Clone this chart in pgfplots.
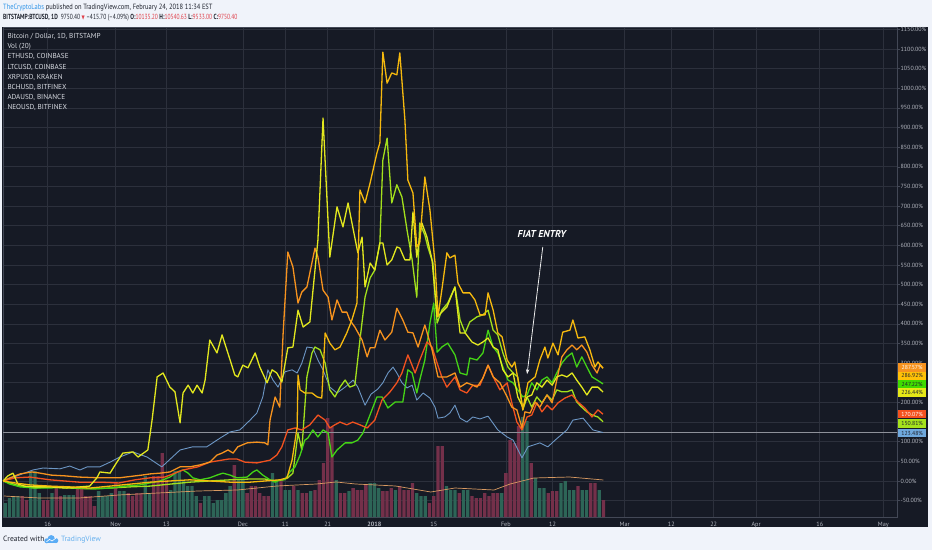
\documentclass[border=0pt]{standalone}
\usepackage{pgfplots}
\pgfplotsset{compat=1.18}
\usepackage{fontspec}
\setmainfont{PT Sans}
\newfontfamily\dejavu{DejaVu Sans}
\usetikzlibrary{arrows.meta}

\definecolor{bgdark}{HTML}{161A25}
\definecolor{bglight}{HTML}{F0F3FA}
\definecolor{gridc}{HTML}{2C303C}
\definecolor{axisc}{HTML}{434856}
\definecolor{tickc}{HTML}{B2B5BE}
\definecolor{legc}{HTML}{D8DBE2}
\definecolor{hdrc}{HTML}{1E222D}
\definecolor{tvblue}{HTML}{2F94E8}
\definecolor{tvred}{HTML}{E0404A}
\definecolor{cloudc}{HTML}{5AACF5}
\definecolor{cltc}{HTML}{F7931E}
\definecolor{cxrp}{HTML}{F6B90E}
\definecolor{cneo}{HTML}{44D316}
\definecolor{cbch}{HTML}{E3E81E}
\definecolor{ceth}{HTML}{F2521F}
\definecolor{cada}{HTML}{A3E01C}
\definecolor{cbtc}{HTML}{6C96C4}
\definecolor{cma}{HTML}{D99A62}
\definecolor{vred}{HTML}{74304A}
\definecolor{vgreen}{HTML}{2D6557}
\definecolor{lbtc}{HTML}{6FA8DC}
\definecolor{lxrp}{HTML}{FFC107}
\definecolor{lneo}{HTML}{3FDB00}
\definecolor{lbch}{HTML}{E5E817}
\definecolor{leth}{HTML}{F4511E}
\definecolor{lada}{HTML}{A5E21C}
\definecolor{lltc}{HTML}{F7931E}
\definecolor{lastline}{HTML}{8E919A}

\pgfplotsset{
  tvaxis/.style={at={(3pt,33pt)}, anchor=south west, scale only axis,
    width=894pt, height=490pt, xmin=4.46, xmax=215.2},
  pl/.style={line width=1.3pt, line join=round},
}
\tikzset{lbl/.style={anchor=west, inner sep=0pt, minimum width=28.5pt, minimum height=8.3pt,
   font=\fontsize{5.8}{6}\selectfont, xshift=0.7pt}}

\begin{document}
\begin{tikzpicture}[x=1pt,y=1pt]
\useasboundingbox (0,0) rectangle (932,550);
\fill[bglight] (0,0) rectangle (932,550);
\fill[bgdark] (2,23) rectangle (928,523);
% header
\node[anchor=base west, inner sep=0pt, font=\fontsize{7.6}{8}\selectfont, text=hdrc] at (3,540.3)
 {\scalebox{0.85}[1]{{\color{tvblue}TheCryptoLabs} published on TradingView.com, February 24, 2018 11:34 EST}};
\node[anchor=base west, inner sep=0pt, font=\fontsize{7.4}{8}\selectfont, text=hdrc] at (3,530.3)
 {\scalebox{0.75}[1]{\textbf{BITSTAMP:BTCUSD, 1D}\ \ 9750.40 {\dejavu\fontsize{5.5}{6}\selectfont\color{tvred}▼} --415.70 (--4.09\%) \textbf{O:}{\color{tvred}10135.20} \textbf{H:}{\color{tvred}10540.63} \textbf{L:}{\color{tvred}9533.00} \textbf{C:}{\color{tvred}9750.40}}};
% footer
\node[anchor=base west, inner sep=0pt, font=\fontsize{7.6}{8}\selectfont, text=hdrc] at (3,8.5) {Created with};
\fill[cloudc] (46.5,6.8) rectangle (56.5,10.5);
\fill[cloudc] (46.8,9.2) circle (2.5);
\fill[cloudc] (51.2,11.3) circle (3.6);
\fill[cloudc] (55.8,9.4) circle (2.5);
\draw[white, line width=0.6pt] (46.5,8.2) -- (49.5,10.6) -- (52,9) -- (56,12);
\node[anchor=base west, inner sep=0pt, font=\fontsize{7.6}{8}\selectfont, text=tvblue!75!white] at (61,8.5) {TradingView};

% axis A: frame, grid, ticks
\begin{axis}[tvaxis, ymin=-91.7, ymax=1155.9,
  axis line style={draw=axisc, line width=0.6pt},
  grid=major, major grid style={draw=gridc, line width=0.6pt},
  xtick={15,31,43,61,71,81,92,106,123,134,151,162,172,182,197,212},
  xticklabels={16,Nov,13,Dec,11,21,\textbf{2018},15,Feb,12,Mar,12,22,Apr,16,May},
  ytick={-50,0,...,1150},
  ytick pos=right, yticklabel pos=right, xtick pos=bottom,
  tick align=outside, major tick length=2.5pt,
  xtick style={draw=none}, ytick style={draw=axisc, line width=0.5pt},
  /pgf/number format/assume math mode=true,
  yticklabel={\pgfmathprintnumber[fixed,fixed zerofill,precision=2,1000 sep={}]{\tick}\%},
  y tick label style={font=\fontsize{6}{7}\selectfont, text=tickc, anchor=west, inner sep=0pt, xshift=1pt},
  x tick label style={font=\fontsize{6.2}{7}\selectfont, text=tickc, inner sep=0pt, yshift=-2pt},
]
\addplot[draw=none] coordinates {(100,0)};
\end{axis}

% axis B: volume
\begin{axis}[tvaxis, hide axis, ymin=0, ymax=490]
\addplot[ybar, bar width=0.78, bar shift=0pt, fill=vred, draw=none] coordinates {
(9,21) (10,17) (14,17) (15,17) (17,31) (18,21) (22,31) (23,31) (24,21) (25,21) (26,11) (31,34)
(34,24) (35,21) (36,24) (37,24) (40,41) (41,41) (42,64) (43,37) (51,14) (59,52) (62,24) (63,31)
(64,31) (65,24) (66,21) (67,21) (70,37) (73,31) (75,24) (76,24) (78,27) (79,37) (80,54) (81,99)
(82,90) (84,24) (85,24) (87,29) (88,27) (89,27) (90,32) (94,26) (95,26) (96,29) (98,31) (99,27)
(100,27) (101,34) (105,14) (106,21) (107,71) (108,71) (112,24) (115,21) (116,19) (117,19) (118,24)
(119,21) (120,24) (121,24) (123,44) (124,77) (125,74) (126,91) (129,54) (133,24) (134,26) (135,26)
(140,31) (143,34) (144,34) (146,17)};
\addplot[ybar, bar width=0.78, bar shift=0pt, fill=vgreen, draw=none] coordinates {
(5,14) (6,19) (7,21) (8,21) (11,46) (12,46) (13,24) (16,24) (19,22) (20,22) (21,22) (27,26) (28,21)
(29,21) (30,24) (32,26) (33,26) (38,41) (39,24) (44,27) (45,46) (46,46) (47,37) (48,31) (49,31)
(50,21) (52,21) (53,21) (54,14) (55,17) (56,17) (57,24) (58,31) (60,37) (61,37) (68,44) (69,37)
(71,27) (72,27) (74,27) (77,26) (83,37) (86,26) (91,34) (92,34) (93,29) (97,27) (102,24) (103,21)
(104,21) (109,31) (110,27) (111,27) (113,27) (114,27) (122,24) (127,100) (128,96) (130,39) (131,29)
(132,29) (136,34) (137,36) (138,27) (139,27) (141,27) (142,27) (145,27)};
\addplot[cma, line width=0.7pt] coordinates {
(4.7,21) (13,19) (22.4,19) (31.7,22) (41,24) (50.4,26) (59.7,27) (69,31) (78.3,33) (83,35)
(87.6,33) (97,31) (105.3,25) (111,29) (120.2,27) (124,33) (129.6,39) (138,40) (146,37)};
\end{axis}

% axis C: price lines
\begin{axis}[tvaxis, hide axis, ymin=-91.7, ymax=1155.9, clip=false]
\addplot[lastline, line width=0.6pt] coordinates {(4.46,123.48) (215.2,123.48)};
% BTC
\addplot[cbtc, line width=0.9pt, line join=round] coordinates {
(4.5,0) (11.5,28) (13.9,33) (17.9,31) (20.2,38) (22.6,28) (24.3,36) (27.3,36) (29.7,48) (32.0,61)
(35.1,74) (38.4,61) (41.9,36) (43.1,48) (46.2,79) (49.2,87) (52.5,87) (55.6,109) (58.0,125) (60.3,130)
(62.7,155) (64.3,173) (65.7,214) (66.9,283) (68.1,257) (69.3,239) (70.9,278) (72.6,283) (73.8,275)
(74.9,300) (76.1,341) (77.5,339) (78.7,308) (79.9,283) (81.5,239) (83.2,224) (85.1,239) (87.0,257)
(88.1,239) (89.8,193) (91.2,221) (92.8,234) (94.0,250) (95.2,275) (96.4,290) (97.3,275) (98.5,250)
(99.7,237) (100.9,244) (102.0,206) (103.5,224) (105.1,211) (106.3,188) (107.0,160) (108.6,163)
(109.8,173) (111.0,193) (112.2,160) (113.8,150) (115.2,163) (116.9,158) (118.8,165) (121.1,130)
(123.3,112) (124.7,104) (126.8,59) (128.2,87) (131.0,97) (132.9,87) (134.6,104) (137.4,130)
(138.8,155) (141.2,160) (143.5,130) (145.9,123.48)};
% ADA
\addplot[cada, pl] coordinates {
(4.5,0) (6.1,-5) (8.5,-13) (12.0,-18) (15.5,-15) (20.2,-18) (24.9,-20) (29.7,-18) (34.4,-15)
(39.1,-13) (43.8,-8) (48.5,-3) (53.2,0) (58.0,3) (62.7,5) (66.2,5) (68.6,0) (70.5,3) (71.6,8)
(72.8,20) (74.0,122) (74.9,79) (76.1,265) (77.3,326) (78.0,341) (79.2,334) (80.4,300) (81.5,232)
(82.7,214) (83.9,239) (85.1,257) (86.2,239) (87.4,244) (88.6,359) (89.8,468) (91.0,517) (92.1,537)
(93.3,606) (94.0,817) (95.0,873) (96.1,708) (97.3,754) (98.5,723) (99.7,639) (100.9,563) (102.0,468)
(102.7,657) (103.9,626) (104.6,596) (105.8,555) (106.8,402) (107.9,435) (109.3,453) (111.0,494)
(112.2,410) (113.4,377) (114.5,405) (116.2,418) (117.6,423) (118.8,435) (120.0,384) (121.1,372)
(122.3,326) (123.5,290) (124.7,275) (125.8,265) (127.0,181) (128.0,214) (129.1,188) (130.3,214)
(131.5,199) (132.7,219) (133.9,206) (135.0,232) (136.2,227) (137.4,227) (138.6,232) (139.7,201)
(140.9,188) (142.1,176) (143.3,168) (144.7,163) (145.9,150.81)};
% NEO
\addplot[cneo, pl] coordinates {
(4.5,0) (6.1,-8) (8.5,-15) (12.0,-18) (15.5,-18) (19.1,-15) (22.6,-18) (26.1,-20) (29.7,-18)
(33.2,-13) (36.7,-10) (39.1,-5) (41.5,0) (43.8,10) (45.5,23) (46.9,28) (48.1,20) (49.2,8) (50.9,3)
(53.2,8) (54.9,15) (56.3,20) (58.0,15) (59.6,8) (62.0,10) (63.4,23) (64.3,28) (65.7,15) (67.4,3)
(68.6,-3) (69.7,3) (70.9,3) (72.1,23) (73.3,36) (74.5,66) (75.6,104) (76.3,109) (77.5,130)
(78.7,112) (79.9,130) (81.1,122) (82.0,61) (83.2,79) (85.1,97) (86.7,97) (88.1,104) (89.3,122)
(90.5,155) (92.6,214) (93.8,214) (95.2,186) (96.9,201) (98.7,201) (99.9,283) (100.9,275) (102.0,224)
(102.7,257) (103.9,308) (105.1,402) (106.0,453) (106.8,328) (107.9,341) (109.3,351) (111.0,321)
(112.2,275) (113.8,270) (114.5,313) (116.2,308) (117.6,326) (118.8,384) (120.0,341) (121.1,326)
(122.3,290) (123.5,257) (124.7,250) (125.8,232) (127.0,214) (128.0,219) (129.1,250) (130.3,232)
(131.5,257) (132.7,265) (133.9,250) (135.0,275) (136.2,300) (137.4,316) (138.6,326) (139.7,290)
(140.9,316) (142.1,290) (143.3,265) (144.5,257) (145.9,247.22)};
% ETH
\addplot[ceth, pl] coordinates {
(4.5,0) (7.3,8) (10.8,10) (15.5,3) (22.4,-3) (27.3,-3) (31.8,-5) (35.6,3) (39.1,8) (42.6,10)
(46.9,28) (50.4,36) (53.2,48) (54.9,51) (57.7,56) (59.6,56) (61.5,48) (64.3,46) (67.4,53) (69.0,66)
(70.2,87) (71.6,130) (73.3,135) (74.9,130) (76.8,143) (78.7,168) (80.4,155) (81.5,135) (82.7,143)
(83.9,150) (85.5,143) (86.9,150) (88.6,143) (90.3,135) (92.1,155) (93.8,206) (95.7,227) (97.3,250)
(98.5,275) (99.9,321) (101.6,275) (102.7,308) (104.4,354) (105.6,341) (106.8,300) (107.9,265)
(109.1,239) (111.0,265) (112.2,232) (113.8,224) (115.2,244) (116.9,244) (118.8,295) (120.4,257)
(121.6,232) (123.3,250) (124.4,199) (125.6,150) (126.8,130) (128.0,163) (129.1,168) (130.3,199)
(131.5,176) (132.7,193) (133.9,181) (135.3,199) (136.9,211) (138.6,219) (140.0,201) (141.6,186)
(143.3,163) (144.7,181) (145.9,170.07)};
% LTC
\addplot[cltc, pl] coordinates {
(4.5,0) (6.1,8) (8.5,18) (11.3,23) (13.2,20) (15.8,15) (19.1,13) (22.4,10) (27.3,8) (31.8,8)
(35.6,13) (37.2,15) (39.1,18) (41.5,20) (43.8,23) (46.2,36) (48.5,36) (50.9,41) (53.2,48) (54.9,66)
(56.1,71) (57.5,79) (58.7,71) (59.8,87) (62.0,97) (64.3,99) (66.2,97) (66.9,92) (67.4,155) (68.6,214)
(69.7,188) (70.5,377) (71.6,583) (72.8,545) (74.0,453) (74.9,481) (76.1,494) (76.8,530) (78.0,593)
(78.7,570) (79.9,486) (81.1,468) (82.0,410) (83.2,461) (84.4,430) (85.5,430) (86.2,410) (87.4,392)
(89.1,359) (90.3,316) (91.0,339) (92.1,339) (93.3,384) (94.5,359) (96.1,379) (97.3,440) (98.7,410)
(99.9,379) (101.1,377) (102.3,341) (103.9,397) (105.6,334) (107.0,265) (109.1,265) (111.0,275)
(112.2,239) (113.8,250) (115.2,244) (116.2,239) (117.6,262) (118.8,295) (120.0,265) (121.6,250)
(123.3,214) (124.4,188) (125.6,181) (126.8,135) (127.5,176) (128.7,173) (129.9,201) (131.0,188)
(132.7,219) (133.9,199) (135.0,257) (136.2,316) (137.4,334) (138.6,346) (139.7,334) (140.9,346)
(142.1,328) (143.3,295) (144.5,275) (145.2,295) (145.9,287.57)};
% BCH
\addplot[cbch, pl] coordinates {
(4.5,0) (5.6,13) (6.8,20) (8.0,-8) (9.6,-13) (12.0,-15) (15.5,-15) (19.1,-18) (22.6,-15) (24.9,-13)
(26.6,8) (27.3,23) (29.7,20) (30.9,41) (32.7,71) (35.1,74) (36.3,61) (38.6,79) (39.6,155) (40.8,265)
(42.2,275) (43.8,239) (45.0,227) (46.2,148) (46.9,224) (48.1,244) (49.2,224) (50.2,244) (51.4,224)
(52.1,257) (53.2,359) (54.9,326) (56.1,372) (58.0,308) (59.1,270) (59.8,265) (61.0,295) (62.2,288)
(63.9,326) (65.0,290) (66.7,250) (67.9,283) (69.0,275) (70.2,252) (71.6,339) (72.8,341) (74.0,435)
(75.2,392) (76.8,405) (78.7,614) (79.9,924) (81.5,570) (83.2,698) (84.6,647) (85.8,708) (86.9,647)
(88.1,581) (89.1,621) (89.8,494) (91.0,555) (92.1,537) (93.3,606) (94.0,606) (95.0,550) (96.1,563)
(97.3,596) (98.0,593) (99.2,563) (100.4,563) (101.1,685) (102.0,570) (103.2,657) (104.4,621)
(105.6,563) (106.8,418) (107.9,430) (109.1,443) (111.0,494) (112.2,377) (113.4,377) (115.0,354)
(116.4,346) (117.6,354) (118.8,364) (120.0,341) (121.1,334) (122.3,283) (123.5,265) (124.7,275)
(125.8,214) (127.0,188) (128.0,214) (129.1,219) (130.3,250) (131.5,239) (132.7,257) (133.9,244)
(135.0,265) (136.2,270) (137.4,265) (138.6,275) (139.7,257) (140.9,239) (142.1,219) (143.3,239)
(144.7,239) (145.9,226.44)};
% XRP
\addplot[cxrp, pl] coordinates {
(4.5,0) (7.3,-5) (10.8,-10) (15.5,-13) (20.2,-15) (24.9,-18) (29.7,-13) (34.4,-8) (39.1,-3) (43.8,0)
(48.5,3) (53.2,0) (58.0,-3) (62.7,-3) (66.2,0) (69.7,3) (71.4,8) (72.6,53) (73.8,137) (74.0,270)
(74.5,232) (75.6,224) (77.3,224) (78.5,214) (79.6,211) (80.4,377) (81.5,351) (82.7,334) (83.9,341)
(85.5,377) (86.7,410) (87.9,453) (88.6,741) (89.8,708) (91.0,759) (92.6,835) (93.3,861) (94.0,1092)
(95.0,1013) (96.1,1039) (97.3,1034) (98.0,1090) (99.2,919) (99.9,766) (101.1,733) (102.0,596)
(102.7,606) (103.9,774) (105.1,690) (106.3,555) (107.0,418) (107.9,486) (109.1,581) (109.8,568)
(111.0,575) (111.7,504) (112.9,479) (114.5,479) (115.7,461) (116.9,423) (118.1,423) (118.8,479)
(120.0,435) (121.1,377) (122.1,367) (123.3,308) (124.4,290) (125.1,303) (126.3,232) (127.0,181)
(128.2,250) (129.9,265) (131.0,308) (132.2,341) (132.9,313) (134.1,351) (135.3,321) (136.4,379)
(138.1,384) (138.8,410) (140.0,364) (141.6,367) (142.8,334) (144.0,290) (144.7,303) (145.9,286.92)};
% annotation
\node[text=white, font=\fontsize{10}{11}\selectfont\bfseries\itshape] at (axis cs:131.5,629) {FIAT ENTRY};
\addplot[-{Stealth[length=5pt,width=3.5pt]}, white!85!gray, line width=0.8pt] coordinates {(131.7,596) (128.0,272)};
% last value labels
\node[lbl, fill=lltc, text=white] at (axis cs:215.2,289) {287.57\%};
\node[lbl, fill=lxrp, text=hdrc] at (axis cs:215.2,268) {286.92\%};
\node[lbl, fill=lneo, text=hdrc] at (axis cs:215.2,246) {247.22\%};
\node[lbl, fill=lbch, text=hdrc] at (axis cs:215.2,225) {226.44\%};
\node[lbl, fill=leth, text=white] at (axis cs:215.2,170) {170.07\%};
\node[lbl, fill=lada, text=hdrc] at (axis cs:215.2,146) {150.81\%};
\node[lbl, fill=lbtc, text=hdrc] at (axis cs:215.2,122) {123.48\%};
\end{axis}

% in-chart legend text
\begin{scope}[every node/.style={anchor=base west, inner sep=0pt, font=\fontsize{7.2}{8}\selectfont, text=legc}]
\node at (7.3,511.6) {Bitcoin / Dollar, 1D, BITSTAMP};
\node at (7.3,501.3) {Vol (20)};
\node at (7.3,491.0) {ETHUSD, COINBASE};
\node at (7.3,480.6) {LTCUSD, COINBASE};
\node at (7.3,470.3) {XRPUSD, KRAKEN};
\node at (7.3,460.0) {BCHUSD, BITFINEX};
\node at (7.3,450.0) {ADAUSD, BINANCE};
\node at (7.3,440.0) {NEOUSD, BITFINEX};
\end{scope}
\end{tikzpicture}
\end{document}
